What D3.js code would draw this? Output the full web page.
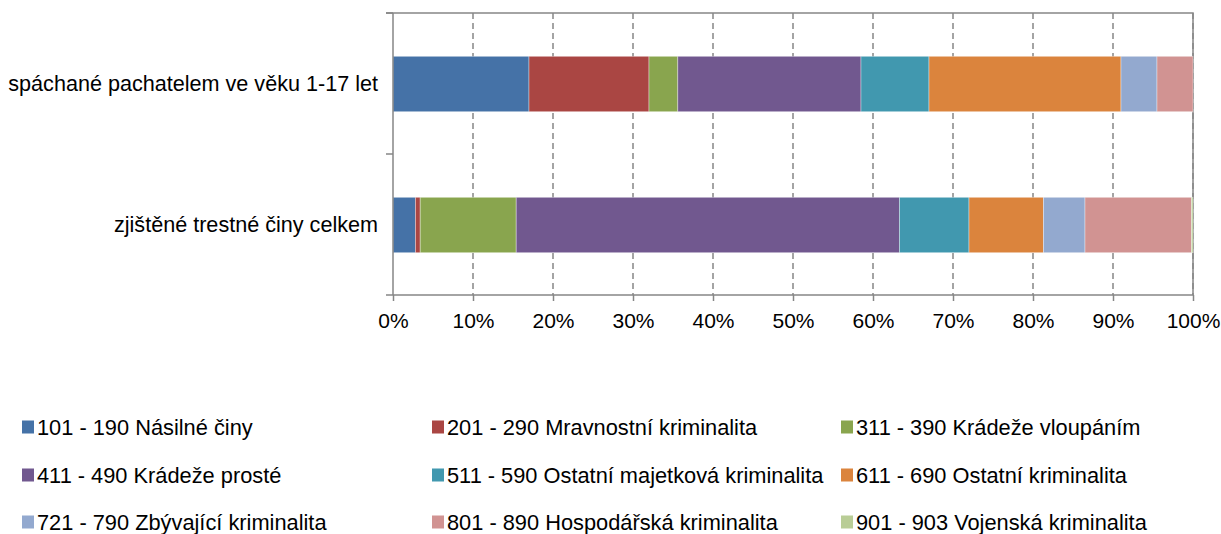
<!DOCTYPE html>
<html>
<head>
<meta charset="utf-8">
<script src="https://cdn.jsdelivr.net/npm/d3@7"></script>
<style>
    body { margin: 0; background: #fff; }
    #mainSvg { display: block; font-family: "Liberation Sans", Arial, sans-serif; }
</style>
</head>
<body>
<svg id="mainSvg" width="1221" height="534"></svg>
<script>
// * categories, top to bottom
let categories = ['spáchané pachatelem ve věku 1-17 let', 'zjištěné trestné činy celkem']

// * series names (legend order)
let seriesNames = [
    '101 - 190 Násilné činy',
    '201 - 290 Mravnostní kriminalita',
    '311 - 390 Krádeže vloupáním',
    '411 - 490 Krádeže prosté',
    '511 - 590 Ostatní majetková kriminalita',
    '611 - 690 Ostatní kriminalita',
    '721 - 790 Zbývající kriminalita',
    '801 - 890 Hospodářská kriminalita',
    '901 - 903 Vojenská kriminalita'
]

// * share in % per series, one value per category
let youthValues = [17.0, 15.0, 3.6, 22.9, 8.5, 24.0, 4.5, 4.5, 0.0]
let totalValues = [2.8, 0.6, 12.0, 47.9, 8.7, 9.3, 5.2, 13.3, 0.2]

let xTicks = [0, 10, 20, 30, 40, 50, 60, 70, 80, 90, 100]

let colors = ['#4572A7', '#AA4643', '#89A54E', '#71588F', '#4198AF',
    '#DB843D', '#93A9CF', '#D19392', '#B9CD96']

let svg = d3.select('#mainSvg')
let axisColor = '#868686'

let plot = { left: 393, right: 1193, top: 13, bottom: 295 }

let x = d3.scaleLinear().domain([0, 100]).range([plot.left, plot.right])
let y = d3.scaleBand().domain(categories)
    .range([plot.top, plot.bottom])
    .paddingInner(0.6).paddingOuter(0.3)

// build rows for the stack
let rows = categories.map(function (c, i) {
    let vals = i === 0 ? youthValues : totalValues
    let row = { cat: c }
    seriesNames.forEach(function (s, j) { row[s] = vals[j] })
    return row
})
let stacked = d3.stack().keys(seriesNames)(rows)

// plot area border (top + right)
svg.append('path')
    .attr('d', 'M' + (plot.left - 7) + ' ' + plot.top + 'H' + plot.right + 'V' + plot.bottom)
    .attr('fill', 'none')
    .attr('stroke', axisColor)
    .attr('stroke-width', 1.5)

// dashed gridlines
svg.append('g')
    .selectAll('line')
    .data(xTicks.slice(1))
    .enter()
    .append('line')
    .attr('x1', d => x(d)).attr('x2', d => x(d))
    .attr('y1', plot.top).attr('y2', plot.bottom)
    .attr('stroke', axisColor)
    .attr('stroke-width', 1.5)
    .attr('stroke-dasharray', '6,4')

// bars
svg.append('g')
    .selectAll('g')
    .data(stacked)
    .enter()
    .append('g')
    .attr('fill', (d, i) => colors[i])
    .selectAll('rect')
    .data(d => d)
    .enter()
    .append('rect')
    .attr('x', d => x(d[0]))
    .attr('width', d => x(d[1]) - x(d[0]))
    .attr('y', d => y(d.data.cat) + 1)
    .attr('height', y.bandwidth() - 1)
    .attr('stroke', '#ffffff')
    .attr('stroke-opacity', 0.45)
    .attr('stroke-width', 0.8)

// x axis
let xAxis = d3.axisBottom(x)
    .tickValues(xTicks)
    .tickFormat(d => d + '%')
    .tickSize(6)
    .tickPadding(12)
let gx = svg.append('g')
    .attr('transform', 'translate(0,' + plot.bottom + ')')
    .call(xAxis)
gx.select('.domain').attr('stroke', axisColor).attr('stroke-width', 1.5)
    .attr('d', 'M' + plot.left + ',0H' + plot.right)
gx.selectAll('.tick line').attr('stroke', axisColor).attr('stroke-width', 1.5)
gx.selectAll('.tick text')
    .attr('fill', '#000')
    .style('font-size', '21px')
    .style('font-family', '"Liberation Sans", Arial, sans-serif')

// y axis: line, ticks at band boundaries, labels at band centres
svg.append('line')
    .attr('x1', plot.left).attr('x2', plot.left)
    .attr('y1', plot.top).attr('y2', plot.bottom)
    .attr('stroke', axisColor).attr('stroke-width', 1.5)

let boundaries = [plot.top, (plot.top + plot.bottom) / 2, plot.bottom]
svg.append('g')
    .selectAll('line')
    .data(boundaries)
    .enter()
    .append('line')
    .attr('x1', plot.left - 7).attr('x2', plot.left)
    .attr('y1', d => d).attr('y2', d => d)
    .attr('stroke', axisColor).attr('stroke-width', 1.5)

svg.append('g')
    .selectAll('text')
    .data(categories)
    .enter()
    .append('text')
    .attr('x', 378)
    .attr('y', d => y(d) + y.bandwidth() / 2)
    .attr('dy', '0.35em')
    .attr('text-anchor', 'end')
    .style('font-size', '21.6px')
    .text(d => d)

// legend: 3 columns x 3 rows
let legendCols = [22, 432, 841]
let legendRows = [427, 475, 522]
let lg = svg.append('g')
    .selectAll('g')
    .data(seriesNames)
    .enter()
    .append('g')
    .attr('transform', (d, i) => 'translate(' + legendCols[i % 3] + ',' + legendRows[Math.floor(i / 3)] + ')')

lg.append('rect')
    .attr('x', 0).attr('y', -6.5)
    .attr('width', 12).attr('height', 13)
    .attr('fill', (d, i) => colors[i])

lg.append('text')
    .attr('x', 15)
    .attr('dy', '0.35em')
    .style('font-size', '21.8px')
    .text(d => d)
</script>
</body>
</html>
